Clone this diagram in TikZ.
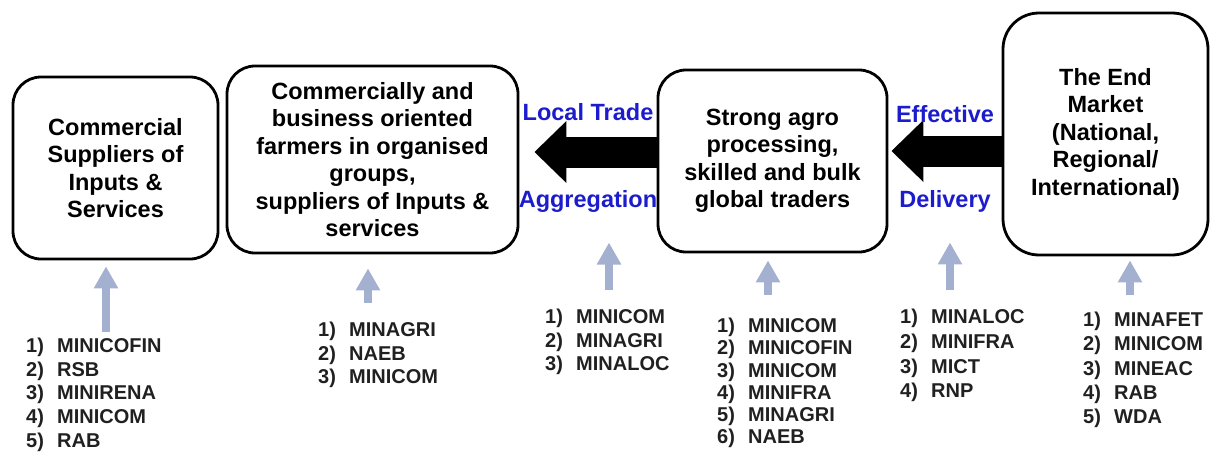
\documentclass[tikz,border=0pt]{standalone}
\usepackage{fontspec}
\setmainfont{Liberation Sans}
\usetikzlibrary{arrows.meta}
\definecolor{tradeblue}{RGB}{28,28,205}
\definecolor{supportblue}{RGB}{163,176,208}
\definecolor{listdark}{RGB}{32,32,32}
\newcommand{\numbox}[1]{\makebox[31pt][l]{#1}}

\begin{document}
\begin{tikzpicture}[x=1pt,y=-1pt]
		\tikzset{stage/.style = {draw,line width=2.8pt,rounded corners=28pt,align=center,inner sep=0pt,font=\fontsize{23.5}{27.5}\selectfont\bfseries}}
		\tikzset{flow/.style = {line width=31pt,-{Triangle[width=60pt,length=32pt]}}}
		\tikzset{flowlabel/.style = {inner sep=0pt,text=tradeblue,font=\fontsize{23.5}{27.5}\selectfont\bfseries}}
		\tikzset{support/.style = {draw=supportblue,line width=8pt,-{Triangle[width=23pt,length=22pt]}}}
		\tikzset{ministries/.style = {anchor=north west,align=left,inner sep=0pt,text=listdark,font=\fontsize{20}{#1}\selectfont\bfseries},ministries/.default=24.5}
		\useasboundingbox (0,0) rectangle (1210,455);
		\node[stage,minimum width=205pt,minimum height=182pt] (supp) at (115.5,168) {Commercial\\Suppliers of\\Inputs \&\\Services};
		\node[stage,minimum width=291pt,minimum height=187pt] (farm) at (372.5,159.5) {Commercially and\\business oriented\\farmers in organised\\groups,\\suppliers of Inputs \&\\services};
		\node[stage,minimum width=229pt,minimum height=182pt] (proc) at (772.5,161) {Strong agro\\processing,\\skilled and bulk\\global traders};
		\node[stage,minimum width=205pt,minimum height=242pt,rounded corners=36pt] (mkt) at (1105.5,134) {The End\\Market\\(National,\\Regional/\\International)};
		\draw[flow,shorten >=15pt] ([yshift=9pt]proc.west) -- ([yshift=9pt]proc.west -| farm.east)
			node[flowlabel,midway,yshift=40pt] (trade) {Local Trade}
			node[flowlabel,midway,yshift=-49pt] (agg) {Aggregation};
		\draw[flow,shorten >=3pt] ([yshift=-17pt]mkt.west) -- ([yshift=-17pt]mkt.west -| proc.east)
			node[flowlabel,midway,yshift=36.5pt] (eff) {Effective}
			node[flowlabel,midway,yshift=-50pt] (del) {Delivery};
		\coordinate (s1) at (106,332);
		\coordinate (s2) at (368,303);
		\coordinate (s3) at (609,290);
		\coordinate (s4) at (768,295);
		\coordinate (s5) at (950,290);
		\coordinate (s6) at (1130,295);
		\draw[support,shorten >=6pt] (s1) -- (s1 |- supp.south);
		\draw[support,shorten >=14pt] (s2) -- (s2 |- farm.south);
		\draw[support,shorten >=15pt] (s3) -- (s3 |- agg.south);
		\draw[support,shorten >=7pt] (s4) -- (s4 |- proc.south);
		\draw[support,shorten >=15pt] (s5) -- (s5 |- del.south);
		\draw[support,shorten >=4pt] (s6) -- (s6 |- mkt.south);
		\node[ministries=23.6] (l1) at (26,338) {\numbox{1)}MINICOFIN\\\numbox{2)}RSB\\\numbox{3)}MINIRENA\\\numbox{4)}MINICOM\\\numbox{5)}RAB};
		\node[ministries=23.5] (l2) at (318,322) {\numbox{1)}MINAGRI\\\numbox{2)}NAEB\\\numbox{3)}MINICOM};
		\node[ministries=23.5] (l3) at (545,309) {\numbox{1)}MINICOM\\\numbox{2)}MINAGRI\\\numbox{3)}MINALOC};
		\node[ministries=22.2] (l4) at (717,318) {\numbox{1)}MINICOM\\\numbox{2)}MINICOFIN\\\numbox{3)}MINICOM\\\numbox{4)}MINIFRA\\\numbox{5)}MINAGRI\\\numbox{6)}NAEB};
		\node[ministries=24.7] (l5) at (900,309) {\numbox{1)}MINALOC\\\numbox{2)}MINIFRA\\\numbox{3)}MICT\\\numbox{4)}RNP};
		\node[ministries=24.3] (l6) at (1083,312) {\numbox{1)}MINAFET\\\numbox{2)}MINICOM\\\numbox{3)}MINEAC\\\numbox{4)}RAB\\\numbox{5)}WDA};
	\end{tikzpicture}
\end{document}
